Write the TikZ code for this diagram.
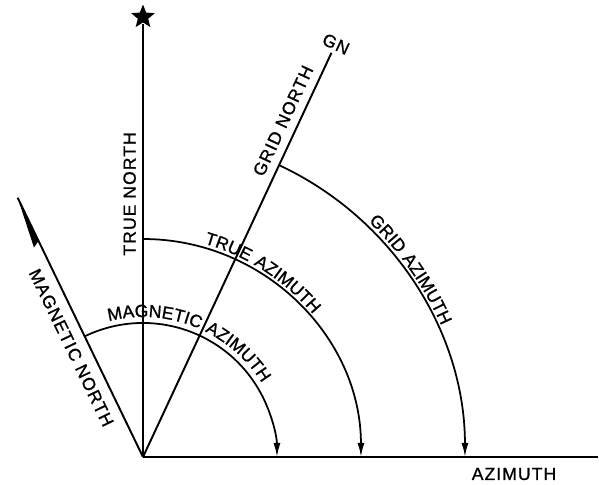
\documentclass[tikz,border=0pt]{standalone}
\usepackage{fontspec}
\setmainfont{Liberation Sans}
\newfontfamily\letterfont[LetterSpace=6, FakeBold=1]{Liberation Sans}
\usetikzlibrary{arrows.meta, shapes.geometric, decorations.text, calc, positioning}

\begin{document}
\begin{tikzpicture}[x=0.02cm, y=0.02cm, line width=1.1pt,
    >={Latex[length=2.8mm, width=1.4mm]},
    lbl/.style={font=\letterfont\fontsize{10}{11}\selectfont, inner sep=1pt},
    arctext/.style={decorate, decoration={text along path, text align=center,
        text={|\letterfont\fontsize{10}{11}\selectfont|#1}}}]
    \useasboundingbox (-143,-27) rectangle (456,457);

    \coordinate (origin) at (0,0);
    \coordinate (azend) at (455,0);
    \coordinate (gridend) at (65:446);
    \coordinate (magend) at (115.8:288);
    \node[star, star points=5, star point ratio=2.3, fill, inner sep=0pt, minimum size=0.5cm] (star) at (0,440) {};

    % north lines
    \draw (origin) -- node[lbl, pos=0.607, sloped, above=2.5pt] {TRUE NORTH} (star);
    \draw (origin) -- node[lbl, pos=0.816, sloped, above=3.5pt] {GRID NORTH} (gridend);
    \draw (magend) -- node[lbl, pos=0.55, sloped, below=4.5pt] {MAGNETIC NORTH} (origin);
    \fill (magend) -- ($(origin)+(115.8:236)+(205.8:7)$) -- ($(origin)+(115.8:240)$) -- cycle;
    \node[lbl, rotate=-25] (gn) at (193,413) {GN};

    % azimuth line
    \draw (origin) -- (azend);
    \node[lbl] (azimuth) at (371,-17) {AZIMUTH};

    % arcs
    \draw[->, line width=1pt] (115.8:134) arc[start angle=115.8, end angle=0, radius=2.68cm];
    \draw[->, line width=1pt] (90:218) arc[start angle=90, end angle=0, radius=4.36cm];
    \draw[->, line width=1pt] (65:322) arc[start angle=65, end angle=0, radius=6.44cm];

    \path[arctext={MAGNETIC AZIMUTH}] (118:140) arc[start angle=118, end angle=18, radius=2.8cm];
    \path[arctext={TRUE AZIMUTH}] (107:222) arc[start angle=107, end angle=7, radius=4.44cm];
    \path[arctext={GRID AZIMUTH}] (70:326) arc[start angle=70, end angle=0, radius=6.52cm];
\end{tikzpicture}
\end{document}
